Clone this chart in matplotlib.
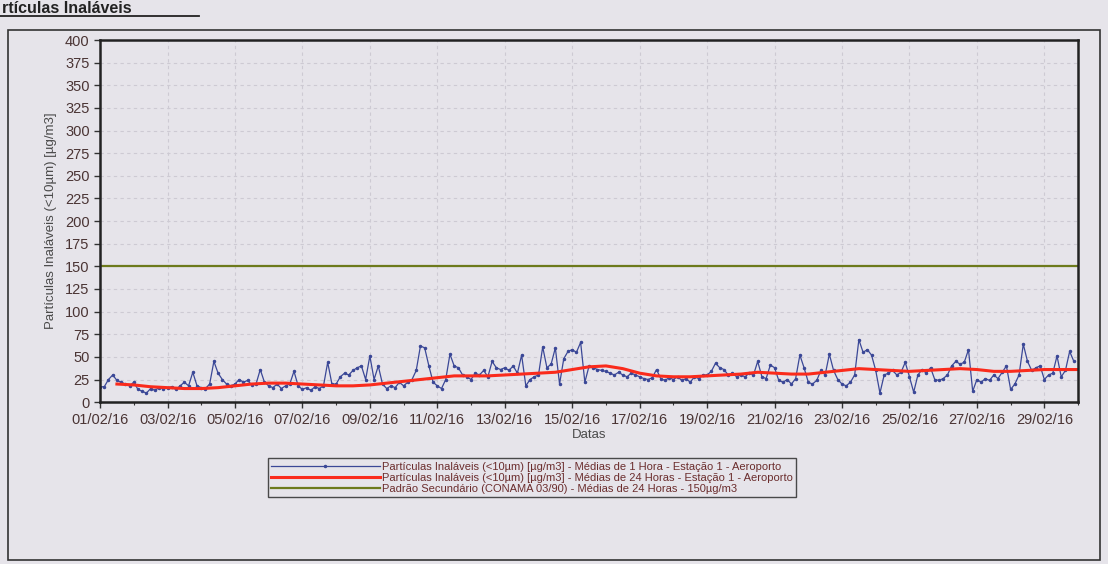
import matplotlib.pyplot as plt
import matplotlib.dates as mdates
import pandas as pd

plt.rcParams['font.family'] = ['Liberation Sans', 'DejaVu Sans']

# PM10 hourly-ish readings (3 h steps), 01/02/16 00:00 onwards
pm10_values = [
    17, 17, 25, 30, 24, 22, 20, 18,
    22, 14, 12, 10, 15, 13, 16, 15,
    16, 17, 14, 18, 22, 18, 33, 18,
    16, 15, 20, 45, 32, 25, 20, 18,
    20, 25, 22, 24, 19, 20, 36, 22,
    18, 16, 20, 15, 18, 20, 34, 18,
    14, 16, 13, 17, 15, 18, 44, 20,
    20, 28, 32, 30, 35, 38, 40, 25,
    51, 25, 40, 20, 15, 18, 16, 22,
    18, 22, 25, 35, 62, 60, 40, 22,
    18, 15, 25, 53, 40, 38, 30, 28,
    25, 32, 30, 35, 28, 45, 38, 36,
    38, 35, 40, 32, 52, 18, 25, 28,
    30, 61, 38, 42, 60, 20, 48, 56,
    58, 55, 66, 22, 40, 38, 36, 35,
    34, 32, 30, 33, 30, 28, 32, 30,
    28, 26, 25, 27, 36, 26, 24, 27,
    25, 28, 24, 26, 22, 28, 26, 30,
    30, 34, 43, 38, 36, 30, 32, 28,
    30, 28, 32, 30, 45, 28, 26, 41,
    38, 24, 22, 25, 20, 26, 52, 38,
    22, 20, 24, 35, 30, 53, 35, 25,
    20, 18, 22, 30, 69, 55, 58, 52,
    35, 10, 30, 32, 35, 30, 33, 44,
    28, 11, 30, 36, 32, 38, 25, 24,
    26, 30, 40, 45, 42, 44, 58, 12,
    25, 22, 26, 24, 30, 26, 33, 40,
    14, 20, 30, 64, 45, 35, 38, 40,
    25, 30, 32, 51, 28, 35, 56, 45,
]
pm10_times = pd.date_range('2016-02-01 00:00', periods=len(pm10_values), freq='3h')

# 24 h means, every 12 h from 01/02 12:00
mean24_values = [
    20, 19, 17, 16, 15, 15, 16, 18, 20, 21,
    21, 20, 19, 18, 18, 19, 21, 23, 25, 27,
    29, 29, 29, 30, 31, 32, 33, 36, 39, 40,
    37, 32, 29, 28, 28, 29, 30, 31, 33, 32,
    31, 31, 33, 35, 37, 36, 35, 34, 35, 36,
    37, 36, 34, 34, 35, 36, 36, 36,
]
mean24_times = pd.date_range('2016-02-01 12:00', periods=len(mean24_values), freq='12h')

standard_value = 150
y_ticks = list(range(0, 401, 25))
x_ticks = pd.date_range('2016-02-01', '2016-02-29', freq='2D')

labels = [
    'Partículas Inaláveis (<10µm) [µg/m3] - Médias de 1 Hora - Estação 1 - Aeroporto',
    'Partículas Inaláveis (<10µm) [µg/m3] - Médias de 24 Horas - Estação 1 - Aeroporto',
    'Padrão Secundário (CONAMA 03/90) - Médias de 24 Horas - 150µg/m3',
]

bg = '#e6e4ea'
tick_col = '#4a3434'

fig = plt.figure(figsize=(11.08, 5.64), dpi=100, facecolor=bg)

# outer frame of the report box
frame = plt.Rectangle((0.007, 0.007), 0.986, 0.940, transform=fig.transFigure,
                      fill=False, edgecolor='#333333', linewidth=1.2)
fig.add_artist(frame)

# section heading (underlined)
fig.text(0.002, 0.998, 'rtículas Inaláveis', fontsize=11.5, fontweight='bold',
         color='#222222', ha='left', va='top')
fig.add_artist(plt.Line2D([0.0, 0.18], [0.972, 0.972], transform=fig.transFigure,
                          color='#222222', linewidth=1.3))

ax = fig.add_axes([0.0903, 0.287, 0.8827, 0.642])
ax.set_facecolor(bg)

ax.plot(pm10_times, pm10_values, color='#3b4897', linewidth=0.9,
        marker='.', markersize=3, label=labels[0])
ax.plot(mean24_times, mean24_values, color='#fa2b1c', linewidth=2.2, label=labels[1])
ax.axhline(standard_value, color='#6d7a1c', linewidth=1.6, label=labels[2])

ax.set_ylim(0, 400)
ax.set_yticks(y_ticks)
ax.set_xlim(pd.Timestamp('2016-02-01'), pd.Timestamp('2016-03-01'))
ax.set_xticks(x_ticks)
ax.xaxis.set_major_formatter(mdates.DateFormatter('%d/%m/%y'))
ax.xaxis.set_minor_locator(mdates.DayLocator())

ax.tick_params(axis='both', labelsize=10.5, colors='#333333', labelcolor=tick_col,
               direction='out', length=4, width=1)
ax.tick_params(axis='x', which='minor', length=2, width=0.8, colors='#333333')

ax.grid(True, color='#cdcad3', linestyle=(0, (3, 3)), linewidth=0.8)
ax.set_axisbelow(True)
for s in ax.spines.values():
    s.set_linewidth(1.8)
    s.set_color('#222222')

ax.set_ylabel('Partículas Inaláveis (<10µm) [µg/m3]', fontsize=9.5, color='#4a4a4a', labelpad=6)
ax.set_xlabel('Datas', fontsize=9.5, color='#4a4a4a', labelpad=2)

leg = fig.legend(loc='upper left', bbox_to_anchor=(0.2365, 0.197), fontsize=8,
                 handlelength=9.8, handletextpad=0.2, labelspacing=0.1, borderpad=0.3,
                 numpoints=1, frameon=True, fancybox=False, facecolor=bg, edgecolor='#222222')
leg.get_frame().set_linewidth(1.0)
for t in leg.get_texts():
    t.set_color('#6b2d2d')

fig.savefig('out.png', dpi=100, facecolor=bg)
